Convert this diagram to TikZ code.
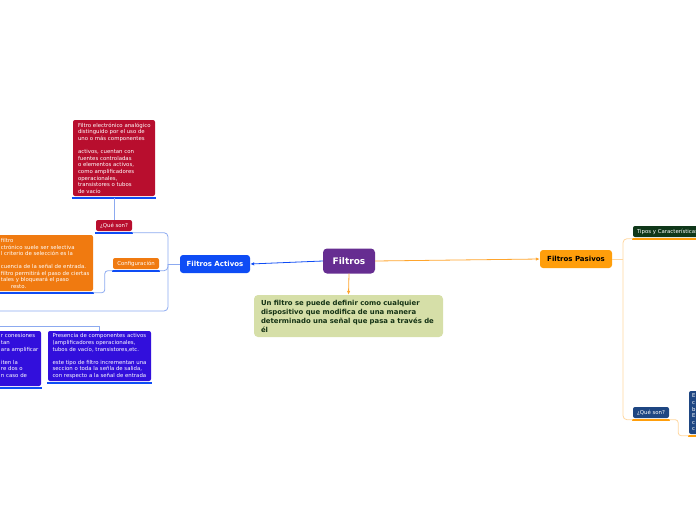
\documentclass[tikz,border=0pt]{standalone}
\usepackage{fontspec}
\setmainfont{DejaVu Sans}
\usetikzlibrary{arrows.meta}

\definecolor{morado}{RGB}{102,45,145}
\definecolor{azulact}{RGB}{14,76,245}
\definecolor{azulclaro}{RGB}{140,170,240}
\definecolor{rojo}{RGB}{184,14,46}
\definecolor{naranja}{RGB}{240,122,16}
\definecolor{violeta}{RGB}{50,15,220}
\definecolor{naranjapas}{RGB}{255,158,11}
\definecolor{naranjalinea}{RGB}{255,165,45}
\definecolor{naranjaclaro}{RGB}{255,215,160}
\definecolor{verdeosc}{RGB}{15,55,25}
\definecolor{azulosc}{RGB}{30,70,130}
\definecolor{verdefondo}{RGB}{214,223,168}
\definecolor{verdetexto}{RGB}{20,50,20}

\begin{document}
\begin{tikzpicture}[x=1pt,y=-1pt,
    tema/.style={rounded corners=2pt, inner sep=0pt, text=white},
    chico/.style={font=\fontsize{5.4}{6.6}\selectfont},
    caja/.style={rounded corners=2pt, inner sep=0pt},
    texto/.style={chico, text=white, align=left, inner sep=0pt, anchor=north west},
    lazul/.style={draw=azulclaro, line width=0.8pt},
    lnaranja/.style={draw=naranjaclaro, line width=0.8pt},
    subazul/.style={draw=azulact, line width=2.2pt},
    subnaranja/.style={draw=naranjapas, line width=2.2pt}]
  \clip (0,0) rectangle (696,520);
  \useasboundingbox (0,0) rectangle (696,520);

  % central topic and main branches
  \node [tema, fill=morado, rounded corners=4pt,
    minimum width=52, minimum height=25,
    font=\bfseries\fontsize{9}{10}\selectfont] (filtros) at (349,261) {Filtros};
  \node [tema, fill=azulact, rounded corners=3pt,
    minimum width=70, minimum height=18,
    font=\bfseries\fontsize{7}{8}\selectfont] (act) at (215,264) {Filtros Activos};
  \node [tema, fill=naranjapas, text=black, rounded corners=3pt,
    minimum width=72, minimum height=18,
    font=\bfseries\fontsize{7}{8}\selectfont] (pas) at (576,259) {Filtros Pasivos};
  \node [tema, fill=verdefondo, text=verdetexto, rounded corners=4pt,
    text width=175, inner xsep=7pt, minimum height=42, align=left,
    font=\bfseries\fontsize{6.9}{9}\selectfont] (defin) at (348.5,316)
    {Un filtro se puede definir como cualquier\\
     dispositivo que modifica de una manera\\
     determinado una señal que pasa a través de\\
     él};

  % left side
  \node [caja, fill=rojo, minimum width=82, minimum height=76] (rbox) at (114,158) {};
  \node [texto] (rbox-t) at ([xshift=5pt,yshift=-3pt]rbox.north west)
    {Filtro electrónico analógico\\
     distinguido por el uso de\\
     uno o más componentes\\[6.6pt]
     activos, cuentan con\\
     fuentes controladas\\
     o elementos activos,\\
     como amplificadores\\
     operacionales,\\
     transistores o tubos\\
     de vacío};
  \node [tema, chico, fill=rojo, minimum width=36, minimum height=11] (qsonA) at (114,225.5) {¿Qué son?};
  \node [tema, chico, fill=naranja, minimum width=46, minimum height=11] (conf) at (136,263.5) {Configuración};
  \node [caja, fill=naranja, minimum width=97, minimum height=56] (obox) at (44.5,263) {};
  \node [texto, align=left] (obox-t) at ([xshift=5pt,yshift=-3.5pt]obox.north west)
    {filtro\\
     ctrónico suele ser selectiva\\
     l criterio de selección es la\\[6.3pt]
     cuencia de la señal de entrada.\\
     filtro permitirá el paso de ciertas\\
     tales y bloqueará el paso\\
     \hspace*{10pt}resto.};
  \node [caja, fill=violeta, minimum width=45, minimum height=55] (bleft) at (18.5,358.5) {};
  \node [texto] (bleft-t) at ([xshift=5pt,yshift=-2.8pt]bleft.north west)
    {r conesiones\\
     tan\\
     ara amplificar\\[6.6pt]
     iten la\\
     re dos o\\
     n caso de};
  \node [caja, fill=violeta, minimum width=103, minimum height=50] (bright) at (99.5,356) {};
  \node [texto] (bright-t) at ([xshift=4.5pt,yshift=-2.8pt]bright.north west)
    {Presencia de componentes activos\\
     (amplificadores operacionales,\\
     tubos de vacío, transistores,etc.\\[6.6pt]
     este tipo de filtro incrementan una\\
     seccion o toda la señla de salida,\\
     con respecto a la señal de entrada};

  % right side
  \node [caja, fill=verdeosc, minimum width=87, minimum height=11] (tipos) at (676.5,231.5) {};
  \node [texto, anchor=west] (tipos-t) at ([xshift=4pt]tipos.west) {Tipos y Características};
  \node [tema, chico, fill=azulosc, minimum width=36, minimum height=11] (qsonB) at (651,412.5) {¿Qué son?};
  \node [caja, fill=azulosc, minimum width=41, minimum height=43] (fbox) at (709.5,412.5) {};
  \node [texto] (fbox-t) at ([xshift=3pt,yshift=-3pt]fbox.north west)
    {E\\c\\b\\E\\c\\c};

  % underlines
  \foreach \n in {rbox, qsonA, conf, obox, bleft, bright}
    \draw [subazul] ([xshift=-1pt,yshift=-1.5pt]\n.south west) -- ([xshift=1pt,yshift=-1.5pt]\n.south east);
  \foreach \n in {tipos, qsonB, fbox}
    \draw [subnaranja] ([xshift=-1pt,yshift=-1.5pt]\n.south west) -- ([xshift=1pt,yshift=-1.5pt]\n.south east);

  % connectors from the central topic
  \draw [azulact, line width=0.8pt, -{Latex[length=4pt,width=3.5pt]}]
    (filtros.west) -- (act.east);
  \draw [naranjalinea, line width=0.8pt, -{Latex[length=4pt,width=3.5pt]}]
    (filtros.east) -- (pas.west);
  \draw [naranjalinea, line width=0.8pt, -{Latex[length=4pt,width=3.5pt]}]
    (filtros.south) -- (defin.north);

  % left connectors
  \coordinate (actfork) at (168,264);
  \coordinate (offL) at (-10,311);
  \coordinate (offB) at (-10,326);
  \draw [lazul] (act.west) -- (actfork);
  \draw [lazul, rounded corners=4pt] ([yshift=-1.5pt]qsonA.south east) -| (actfork);
  \draw [lazul, rounded corners=4pt] ([yshift=-1.5pt]conf.south east) -| (actfork);
  \draw [lazul, rounded corners=4pt] (actfork) |- (offL);
  \draw [lazul] (qsonA.north) -- ([yshift=-1.5pt]rbox.south);
  \draw [lazul, rounded corners=3pt]
    ([yshift=-1.5pt]conf.south west) -- ++(-8,0) |- ([yshift=-1.5pt]obox.south east);
  \draw [lazul] (offB) -| (bright.north);

  % right connectors
  \coordinate (pasfork) at (623,259);
  \draw [lnaranja] (pas.east) -- (pasfork);
  \draw [lnaranja, rounded corners=4pt] ([yshift=-1.5pt]tipos.south west) -| (pasfork);
  \draw [lnaranja, rounded corners=4pt] ([yshift=-1.5pt]qsonB.south west) -| (pasfork);
  \draw [lnaranja, rounded corners=3pt]
    ([yshift=-1.5pt]qsonB.south east) -- ++(9,0) |- ([yshift=-1.5pt]fbox.south west);
\end{tikzpicture}
\end{document}
